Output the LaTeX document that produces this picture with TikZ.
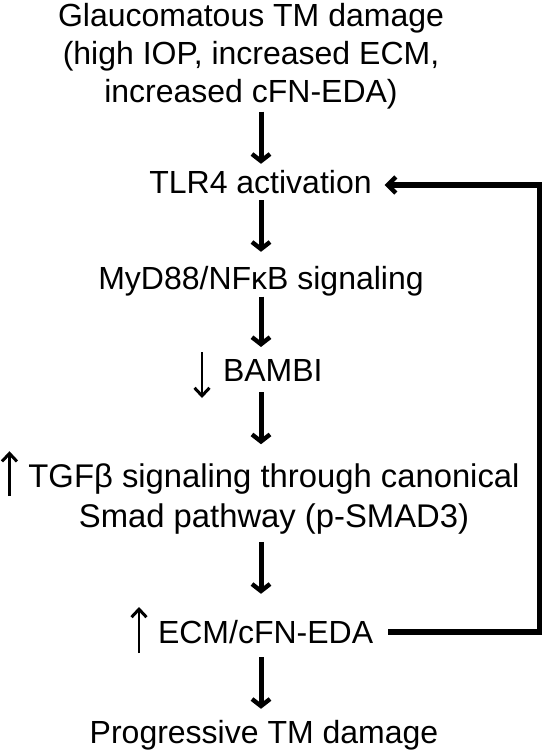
\documentclass[tikz,border=0pt]{standalone}
\usepackage{fontspec}
\setmainfont{Liberation Sans}
\usetikzlibrary{arrows.meta,calc}
\begin{document}
\begin{tikzpicture}[x=1pt,y=-1pt,
  lbl/.style={inner sep=0pt, outer sep=0pt, font=\fontsize{32}{38}\selectfont},
  flow/.style={line width=5pt, -{Straight Barb[length=7pt,width=18pt,line width=4.4pt]}},
  ind/.style={line width=2.2pt, -{Straight Barb[length=8pt,width=15pt,line width=3pt]}},
  fb/.style={line width=5.5pt, line join=miter, -{Straight Barb[length=8pt,width=16pt,line width=4.4pt]}}]
\useasboundingbox (0,0) rectangle (546,752);
\coordinate (axis) at (261,0);
\coordinate (fbr) at (539.5,0);
% texts
\node[lbl, align=center, anchor=base] (title) at (251,102)
  {Glaucomatous TM damage\\(high IOP, increased ECM,\\increased cFN-EDA)};
\node[lbl, anchor=base] (tlr) at (260.5,193) {TLR4 activation};
\node[lbl, anchor=base] (myd) at (261,289) {MyD88/NFκB signaling};
\node[lbl, anchor=base west] (bambi) at (223,381) {BAMBI};
\node[lbl, align=center, anchor=base, font=\fontsize{32.8}{40}\selectfont] (tgf) at (274,527)
  {TGFβ signaling through canonical\\Smad pathway (p-SMAD3)};
\node[lbl, anchor=base west] (ecm) at (158,643) {ECM/cFN-EDA};
\node[lbl, anchor=base] (prog) at (264,743) {Progressive TM damage};
% main flow
\draw[flow] ($(title.south -| axis)+(0,3)$) -- ($(tlr.north -| axis)+(0,-6)$);
\draw[flow] ($(tlr.south -| axis)+(0,7)$) -- ($(myd.north -| axis)+(0,-14)$);
\draw[flow] ($(myd.south -| axis)+(0,1)$) -- ($(bambi.north -| axis)+(0,-12)$);
\draw[flow] ($(bambi.south -| axis)+(0,11)$) -- ($(tgf.north -| axis)+(0,-19)$);
\draw[flow] ($(tgf.south -| axis)+(0,8)$) -- ($(ecm.north -| axis)+(0,-26)$);
\draw[flow] ($(ecm.south -| axis)+(0,14)$) -- ($(prog.north -| axis)+(0,-11)$);
% indicators
\coordinate (tgfw) at ($(tgf.north west)+(0,23)$);
\draw[ind] ($(bambi.base west)+(-21,-29)$) -- ($(bambi.base west)+(-21,17)$);
\draw[ind] ($(tgfw)+(-19,10)$) -- ($(tgfw)+(-19,-35)$);
\draw[ind] ($(ecm.base west)+(-19,10)$) -- ($(ecm.base west)+(-19,-36)$);
% feedback
\coordinate (fbs) at ($(ecm.base east)+(15,-11)$);
\coordinate (fbe) at ($(tlr.base east)+(13,-8)$);
\draw[fb] (fbs) -- (fbs -| fbr) -- (fbe -| fbr) -- (fbe);
\end{tikzpicture}
\end{document}
